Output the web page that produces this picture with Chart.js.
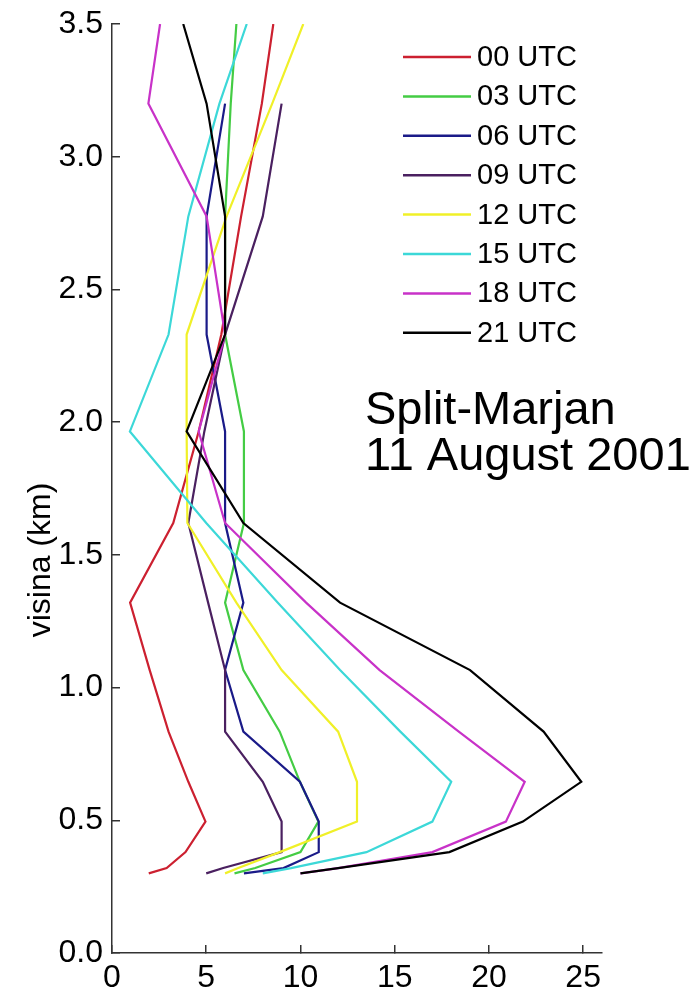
<!DOCTYPE html>
<html>
<head>
<meta charset="utf-8">
<script src="https://cdn.jsdelivr.net/npm/chart.js@4.4.1/dist/chart.umd.min.js"></script>
<style>
  html, body { margin: 0; padding: 0; background: #fff; }
  #c { display: block; }
</style>
</head>
<body>
<canvas id="c" width="693" height="990"></canvas>
<script>
// Wind speed profiles, Split-Marjan, 11 Aug 2001 (x = speed, y = height in km)
const HEIGHTS = [0.30, 0.32, 0.38, 0.495, 0.645, 0.834, 1.066, 1.32, 1.62, 1.965, 2.33, 2.775, 3.2, 3.5];

const LABELS = ['00 UTC', '03 UTC', '06 UTC', '09 UTC', '12 UTC', '15 UTC', '18 UTC', '21 UTC'];
const COLORS = ['#cc2030', '#44cc44', '#1a1a88', '#4a2060', '#f0f028', '#3cd8d8', '#c832c8', '#000000'];

const UTC_00 = [1.95, 2.9, 3.9, 4.96, 4.05, 3.0, 2.0, 0.96, 3.25, 4.6, 5.8, 6.85, 7.95, 8.56];
const UTC_03 = [6.5, 7.6, 10.0, 10.95, 9.97, 8.9, 6.97, 6.0, 7.0, 7.0, 6.0, 6.0, 6.3, 6.6];
const UTC_06 = [7.0, 9.1, 10.97, 10.97, 9.97, 6.97, 6.0, 6.97, 6.0, 6.0, 5.02, 5.02, 6.0, null];
const UTC_09 = [5.0, 5.9, 9.0, 9.0, 8.0, 6.0, 6.0, 5.1, 4.05, 4.9, 6.0, 8.0, 9.0, null];
const UTC_12 = [6.0, 6.7, 8.9, 13.0, 13.0, 12.0, 9.0, 6.6, 4.0, 3.96, 3.96, 6.08, 8.5, 10.15];
const UTC_15 = [8.0, 9.5, 13.5, 17.0, 18.0, 15.3, 12.1, 8.8, 5.0, 0.95, 3.0, 4.05, 5.7, 7.15];
const UTC_18 = [10.0, 12.0, 17.0, 20.9, 21.9, 18.4, 14.2, 10.3, 6.0, 4.6, 6.0, 5.02, 1.93, 2.55];
const UTC_21 = [10.0, 12.0, 17.9, 21.8, 24.9, 22.9, 19.0, 12.1, 6.97, 3.96, 6.0, 6.0, 5.02, 3.78];

const SERIES = [UTC_00, UTC_03, UTC_06, UTC_09, UTC_12, UTC_15, UTC_18, UTC_21];

const X_TICKS = [0, 5, 10, 15, 20, 25];
const Y_TITLE = 'visina (km)';
const STATION = ['Split-Marjan', '11 August 2001'];

const FONT = '"Liberation Sans", Arial, Helvetica, sans-serif';
const AXIS_COLOR = '#333';

function points(vals) {
    const out = [];
    vals.forEach((v, i) => { if (v != null) out.push({ x: v, y: HEIGHTS[i] }); });
    return out;
}

// y-axis title, sits lower than the axis centre like the original
const yTitle = {
    id: 'yTitle',
    afterDraw(chart) {
        const ctx = chart.ctx;
        ctx.save();
        ctx.translate(41, 560);
        ctx.rotate(-Math.PI / 2);
        ctx.font = '32px ' + FONT;
        ctx.fillStyle = '#000';
        ctx.textAlign = 'center';
        ctx.textBaseline = 'middle';
        ctx.fillText(Y_TITLE, 0, 0);
        ctx.restore();
    }
};

// legend + station text drawn inside the plot, MATLAB style
const legendBox = {
    id: 'legendBox',
    afterDraw(chart) {
        const ctx = chart.ctx;
        ctx.save();
        ctx.font = '29px ' + FONT;
        ctx.textBaseline = 'middle';
        chart.data.datasets.forEach((ds, i) => {
            const y = 57 + i * 39.4;
            ctx.strokeStyle = ds.borderColor;
            ctx.lineWidth = 2.5;
            ctx.beginPath();
            ctx.moveTo(403, y);
            ctx.lineTo(471, y);
            ctx.stroke();
            ctx.fillStyle = '#000';
            ctx.fillText(ds.label, 477, y + 1);
        });
        ctx.font = '47px ' + FONT;
        ctx.textBaseline = 'alphabetic';
        ctx.fillText(STATION[0], 365, 424);
        ctx.fillText(STATION[1], 365, 470);
        ctx.restore();
    }
};

new Chart(document.getElementById('c').getContext('2d'), {
    type: 'scatter',
    data: {
        datasets: SERIES.map((vals, i) => ({
            label: LABELS[i],
            data: points(vals),
            showLine: true,
            borderColor: COLORS[i],
            backgroundColor: COLORS[i],
            borderWidth: 2.2,
            pointRadius: 0,
            tension: 0,
            order: SERIES.length - i   // later series on top
        }))
    },
    options: {
        responsive: false,
        animation: false,
        events: [],
        layout: { padding: { left: 0, right: 91, top: 24, bottom: 0 } },
        plugins: { legend: { display: false }, tooltip: { enabled: false } },
        scales: {
            x: {
                type: 'linear',
                min: 0,
                max: 26,
                afterBuildTicks: s => { s.ticks = X_TICKS.map(v => ({ value: v })); },
                afterFit: s => { s.height = 37; s.paddingLeft = 0; s.paddingRight = 0; },
                ticks: { color: '#000', font: { family: FONT, size: 32 }, padding: 14, maxRotation: 0 },
                grid: { drawOnChartArea: false, tickLength: -8, color: AXIS_COLOR, lineWidth: 1.5 },
                border: { color: AXIS_COLOR, width: 1.5 }
            },
            y: {
                min: 0,
                max: 3.5,
                afterFit: s => { s.width = 112; s.paddingTop = 0; s.paddingBottom = 0; },
                ticks: {
                    stepSize: 0.5,
                    color: '#000',
                    font: { family: FONT, size: 32 },
                    padding: 17,
                    callback: v => v.toFixed(1)
                },
                grid: { drawOnChartArea: false, tickLength: -8, color: AXIS_COLOR, lineWidth: 1.5 },
                border: { color: AXIS_COLOR, width: 1.5 }
            }
        }
    },
    plugins: [yTitle, legendBox]
});
</script>
</body>
</html>
